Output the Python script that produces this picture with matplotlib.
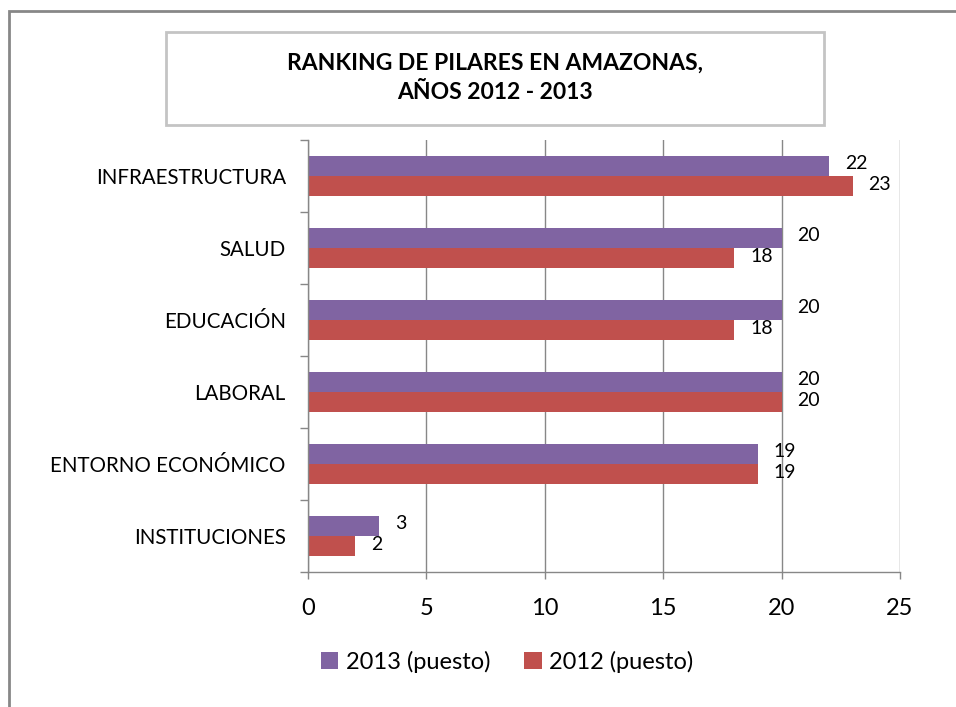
import matplotlib
matplotlib.use("Agg")
import matplotlib.pyplot as plt
from matplotlib.patches import Rectangle
import numpy as np

plt.rcParams['font.family'] = ['Lato', 'DejaVu Sans']

categories = ["INFRAESTRUCTURA", "SALUD", "EDUCACIÓN", "LABORAL",
              "ENTORNO ECONÓMICO", "INSTITUCIONES"]
values_2013 = [22, 20, 20, 20, 19, 3]
values_2012 = [23, 18, 18, 20, 19, 2]
series_names = ["2013 (puesto)", "2012 (puesto)"]
colors = ["#8064A2", "#C0504D"]
xticks = [0, 5, 10, 15, 20, 25]
title = "RANKING DE PILARES EN AMAZONAS,\nAÑOS 2012 - 2013"

W, H = 956, 707
fig = plt.figure(figsize=(W / 100, H / 100), dpi=100)

# outer border
fig.patches.append(Rectangle((8.5 / W, -0.1), 1.2, 1 - 10.5 / H + 0.1,
                             transform=fig.transFigure, fill=False,
                             edgecolor="#878787", linewidth=2))
# title box
fig.patches.append(Rectangle((166 / W, 1 - 125 / H), (824 - 166) / W, (125 - 32) / H,
                             transform=fig.transFigure, fill=False,
                             edgecolor="#C4C4C4", linewidth=2))
fig.text(495 / W, 1 - 78 / H, title, ha="center", va="center",
         fontsize=16.5, fontweight="bold", linespacing=1.5)

ax = fig.add_axes([308 / W, 1 - 572 / H, (900 - 308) / W, (572 - 140) / H])

y = np.arange(len(categories))
h = 0.278
b1 = ax.barh(y - h / 2, values_2013, height=h, color=colors[0], label=series_names[0])
b2 = ax.barh(y + h / 2, values_2012, height=h, color=colors[1], label=series_names[1])

for bars, vals in ((b1, values_2013), (b2, values_2012)):
    for bar, v in zip(bars, vals):
        ax.annotate(str(v), (v, bar.get_y() + bar.get_height() / 2),
                    xytext=(16, 2), textcoords="offset pixels",
                    ha="left", va="center", fontsize=14)

ax.set_xlim(0, 25)
ax.set_ylim(len(categories) - 0.5, -0.5)
ax.set_xticks(xticks)
ax.set_xticklabels([str(t) for t in xticks], fontsize=17)
ax.set_yticks(y)
ax.set_yticklabels(categories, fontsize=14.8)
ax.set_yticks(np.arange(len(categories) + 1) - 0.5, minor=True)
ax.tick_params(axis="y", which="major", length=0, pad=16)
ax.tick_params(axis="y", which="minor", length=6, color="#878787", width=1)
ax.tick_params(axis="x", length=5, color="#878787", width=1, pad=14)
ax.grid(axis="x", color="#878787", linewidth=1)
ax.set_axisbelow(True)
for s in ("top", "right"):
    ax.spines[s].set_visible(False)
for s in ("left", "bottom"):
    ax.spines[s].set_color("#878787")
    ax.spines[s].set_linewidth(1)

fig.legend(handles=[b1, b2], labels=series_names, loc="center",
           bbox_to_anchor=(507 / W, 1 - 662 / H), ncol=2, frameon=False,
           fontsize=17, handlelength=0.75, handleheight=0.75,
           handletextpad=0.3, columnspacing=1.45)

fig.savefig("out.png", dpi=100)
